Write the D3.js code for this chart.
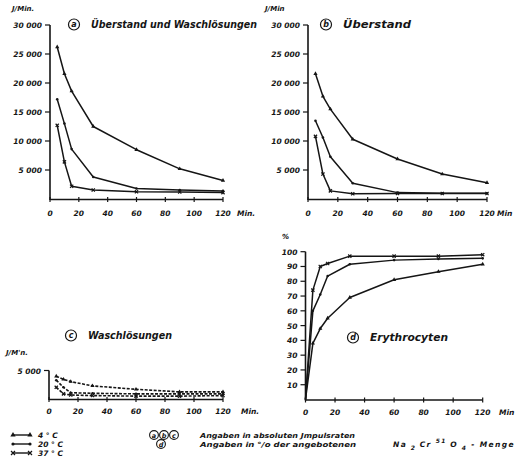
<!DOCTYPE html>
<html>
<head>
<meta charset="utf-8">
<script src="https://cdn.jsdelivr.net/npm/d3@7"></script>
<style>
  html, body { margin: 0; padding: 0; background: #fff; }
  svg { display: block; }
  text { fill: #151515; font-family: "DejaVu Sans", sans-serif; font-style: italic; }
</style>
</head>
<body>
<div id="chart"></div>
<script>
const width = 520;
const height = 476;

// data
const minutes = [5, 10, 15, 30, 60, 90, 120];
const minutesD = [0, 5, 10, 15, 30, 60, 90, 120];
const xTicks = [0, 20, 40, 60, 80, 100, 120];

// a: Überstand und Waschlösungen (J/Min.)
const a4 = [26200, 21600, 18600, 12500, 8500, 5200, 3200];
const a20 = [17200, 13000, 8600, 3800, 1800, 1550, 1400];
const a37 = [12700, 6400, 2200, 1550, 1250, 1200, 1100];

// b: Überstand
const b4 = [21600, 17700, 15500, 10300, 6900, 4300, 2800];
const b20 = [13500, 10600, 7300, 2700, 1100, 1000, 1000];
const b37 = [10800, 4300, 1400, 900, 950, 950, 950];

// c: Waschlösungen
const c4 = [4000, 3450, 3050, 2300, 1700, 1250, 1250];
const c20 = [3300, 2050, 1100, 1000, 900, 900, 900];
const c37 = [2050, 900, 700, 600, 500, 500, 600];

// d: Erythrocyten (%)
const d4 = [0, 38, 48, 55, 69, 81, 86.5, 91.5];
const d20 = [0, 60, 71, 83.5, 91.5, 94.3, 95, 95.5];
const d37 = [0, 74, 90, 92, 97, 97, 97, 98];

const countTicks = [5000, 10000, 15000, 20000, 25000, 30000];
const pctTicks = [10, 20, 30, 40, 50, 60, 70, 80, 90, 100];

const fmtCount = v => d3.format(",")(v).replace(",", " ");

const svg = d3.select("#chart").append("svg")
  .attr("width", width)
  .attr("height", height);

const ink = "#151515";

// marker per temperature
const drawMarker = (g, kind, x, y, s = 2.2) => {
  if (kind === "tri") {
    g.append("path")
      .attr("d", d3.symbol(d3.symbolTriangle, s * s * 3)())
      .attr("transform", `translate(${x},${y})`)
      .attr("fill", ink);
  } else if (kind === "dot") {
    g.append("circle").attr("cx", x).attr("cy", y).attr("r", s * 0.8).attr("fill", ink);
  } else {
    g.append("path")
      .attr("d", `M${x - s},${y - s}L${x + s},${y + s}M${x - s},${y + s}L${x + s},${y - s}`)
      .attr("stroke", ink).attr("stroke-width", 1.2);
  }
};

const drawPanel = (p) => {
  const g = svg.append("g");
  const x = d3.scaleLinear().domain([0, 120]).range(p.xr);
  const y = d3.scaleLinear().domain([0, p.ymax]).range(p.yr);

  // axes
  g.append("line")
    .attr("x1", x(0)).attr("x2", x(120))
    .attr("y1", y(0) + 0.5).attr("y2", y(0) + 0.5)
    .attr("stroke", ink).attr("stroke-width", 1.6);
  g.append("line")
    .attr("x1", x(0)).attr("x2", x(0))
    .attr("y1", y(0) + 1).attr("y2", y(p.ymax))
    .attr("stroke", ink).attr("stroke-width", 1.6);

  // x ticks
  xTicks.forEach(t => {
    g.append("line")
      .attr("x1", x(t)).attr("x2", x(t))
      .attr("y1", y(0) - 2).attr("y2", y(0) + 3)
      .attr("stroke", ink).attr("stroke-width", 1.2);
    g.append("text")
      .attr("x", x(t)).attr("y", p.xLabelY)
      .attr("text-anchor", "middle")
      .attr("font-size", 7.5).attr("font-weight", "bold")
      .text(t);
  });

  // y ticks
  p.yTicks.forEach(t => {
    g.append("line")
      .attr("x1", x(0) - 5).attr("x2", x(0))
      .attr("y1", y(t)).attr("y2", y(t))
      .attr("stroke", ink).attr("stroke-width", 1.2);
    g.append("text")
      .attr("x", x(0) - 8).attr("y", y(t) + 3)
      .attr("text-anchor", "end")
      .attr("font-size", 7.5).attr("font-weight", "bold")
      .text(p.fmt(t));
  });

  // axis labels
  g.append("text").attr("x", p.minX).attr("y", p.xLabelY)
    .attr("font-size", 7.5).attr("font-weight", "bold").text(p.minText);
  g.append("text").attr("x", p.unit[0]).attr("y", p.unit[1])
    .attr("font-size", 7).attr("font-weight", "bold").text(p.unitText);

  // title with circled letter
  g.append("circle").attr("cx", p.title[0]).attr("cy", p.title[1] - 3.5).attr("r", 5.5)
    .attr("fill", "none").attr("stroke", ink).attr("stroke-width", 1.2);
  g.append("text").attr("x", p.title[0]).attr("y", p.title[1] - 0.8)
    .attr("text-anchor", "middle").attr("font-size", 8).attr("font-weight", "bold").text(p.letter);
  g.append("text").attr("x", p.title[0] + 17).attr("y", p.title[1])
    .attr("font-size", 10).attr("font-weight", "bold")
    .attr("textLength", p.titleLen).attr("lengthAdjust", "spacingAndGlyphs")
    .text(p.titleText);

  // series
  const line = d3.line().x(d => x(d[0])).y(d => y(d[1]));
  p.series.forEach(s => {
    const pts = p.xs.map((m, i) => [m, s.values[i]]);
    g.append("path")
      .attr("d", line(pts))
      .attr("fill", "none")
      .attr("stroke", ink)
      .attr("stroke-width", p.lineWidth)
      .attr("stroke-linejoin", "round")
      .attr("stroke-dasharray", p.dash);
    pts.forEach(d => {
      if (d[0] > 0) drawMarker(g, s.marker, x(d[0]), y(d[1]), 1.6);
    });
  });
};

drawPanel({
  xr: [50, 223], yr: [199, 25], ymax: 30000, yTicks: countTicks, fmt: fmtCount,
  xLabelY: 216, minX: 237, minText: "Min.", unit: [12, 11], unitText: "J/Min.",
  title: [74, 28], letter: "a", titleText: "Überstand und Waschlösungen", titleLen: 166,
  xs: minutes, lineWidth: 1.5, dash: null,
  series: [{ values: a4, marker: "tri" }, { values: a20, marker: "dot" }, { values: a37, marker: "x" }]
});

drawPanel({
  xr: [308, 487], yr: [199, 25], ymax: 30000, yTicks: countTicks, fmt: fmtCount,
  xLabelY: 216, minX: 497, minText: "Min", unit: [265, 11], unitText: "J/Min",
  title: [326, 28], letter: "b", titleText: "Überstand", titleLen: 68,
  xs: minutes, lineWidth: 1.5, dash: null,
  series: [{ values: b4, marker: "tri" }, { values: b20, marker: "dot" }, { values: b37, marker: "x" }]
});

drawPanel({
  xr: [49, 223], yr: [399, 370.5], ymax: 5000, yTicks: [5000], fmt: fmtCount,
  xLabelY: 414, minX: 241, minText: "Min.", unit: [6, 355], unitText: "J/M'n.",
  title: [71, 339], letter: "c", titleText: "Waschlösungen", titleLen: 84,
  xs: minutes, lineWidth: 1.6, dash: "3,1.5",
  series: [{ values: c4, marker: "tri" }, { values: c20, marker: "dot" }, { values: c37, marker: "x" }]
});

drawPanel({
  xr: [305.5, 482.7], yr: [399.5, 251.7], ymax: 100, yTicks: pctTicks, fmt: d => d,
  xLabelY: 415, minX: 499, minText: "Min", unit: [282, 239], unitText: "%",
  title: [353, 341], letter: "d", titleText: "Erythrocyten", titleLen: 78,
  xs: minutesD, lineWidth: 1.5, dash: null,
  series: [{ values: d4, marker: "tri" }, { values: d20, marker: "dot" }, { values: d37, marker: "x" }]
});

// legend
const legend = svg.append("g");
const legendRows = [
  { marker: "tri", label: "4 ° C", y: 435 },
  { marker: "dot", label: "20 ° C", y: 444 },
  { marker: "x", label: "37 ° C", y: 453 }
];
legendRows.forEach(r => {
  legend.append("line").attr("x1", 13).attr("x2", 30).attr("y1", r.y).attr("y2", r.y)
    .attr("stroke", ink).attr("stroke-width", 1.4);
  drawMarker(legend, r.marker, 13, r.y, 2);
  drawMarker(legend, r.marker, 30, r.y, 2);
  legend.append("text").attr("x", 38).attr("y", r.y + 3)
    .attr("font-size", 7.5).attr("font-weight", "bold").text(r.label);
});

["a", "b", "c"].forEach((l, i) => {
  const cx = 154 + i * 10;
  legend.append("circle").attr("cx", cx).attr("cy", 435).attr("r", 4.4)
    .attr("fill", "none").attr("stroke", ink).attr("stroke-width", 1.1);
  legend.append("text").attr("x", cx).attr("y", 437.5).attr("text-anchor", "middle")
    .attr("font-size", 6.5).attr("font-weight", "bold").text(l);
});
legend.append("circle").attr("cx", 161).attr("cy", 444).attr("r", 4.4)
  .attr("fill", "none").attr("stroke", ink).attr("stroke-width", 1.1);
legend.append("text").attr("x", 161).attr("y", 446.5).attr("text-anchor", "middle")
  .attr("font-size", 6.5).attr("font-weight", "bold").text("d");

legend.append("text").attr("x", 200).attr("y", 438)
  .attr("font-size", 7).attr("font-weight", "bold")
  .attr("textLength", 155).attr("lengthAdjust", "spacingAndGlyphs")
  .text("Angaben in absoluten Jmpulsraten");
legend.append("text").attr("x", 200).attr("y", 447)
  .attr("font-size", 7).attr("font-weight", "bold")
  .attr("textLength", 156).attr("lengthAdjust", "spacingAndGlyphs")
  .text("Angaben in °/o der angebotenen");

const formula = legend.append("text").attr("x", 393).attr("y", 447)
  .attr("font-size", 7.5).attr("font-weight", "bold").attr("letter-spacing", 1.4);
formula.append("tspan").text("Na");
formula.append("tspan").attr("dy", 3).attr("font-size", 6).text(" 2 ");
formula.append("tspan").attr("dy", -3).text("  Cr ");
formula.append("tspan").attr("dy", -4).attr("font-size", 6).text("51  ");
formula.append("tspan").attr("dy", 4).text(" O");
formula.append("tspan").attr("dy", 3).attr("font-size", 6).text(" 4");
formula.append("tspan").attr("dy", -3).text("  -  Menge");
</script>
</body>
</html>
